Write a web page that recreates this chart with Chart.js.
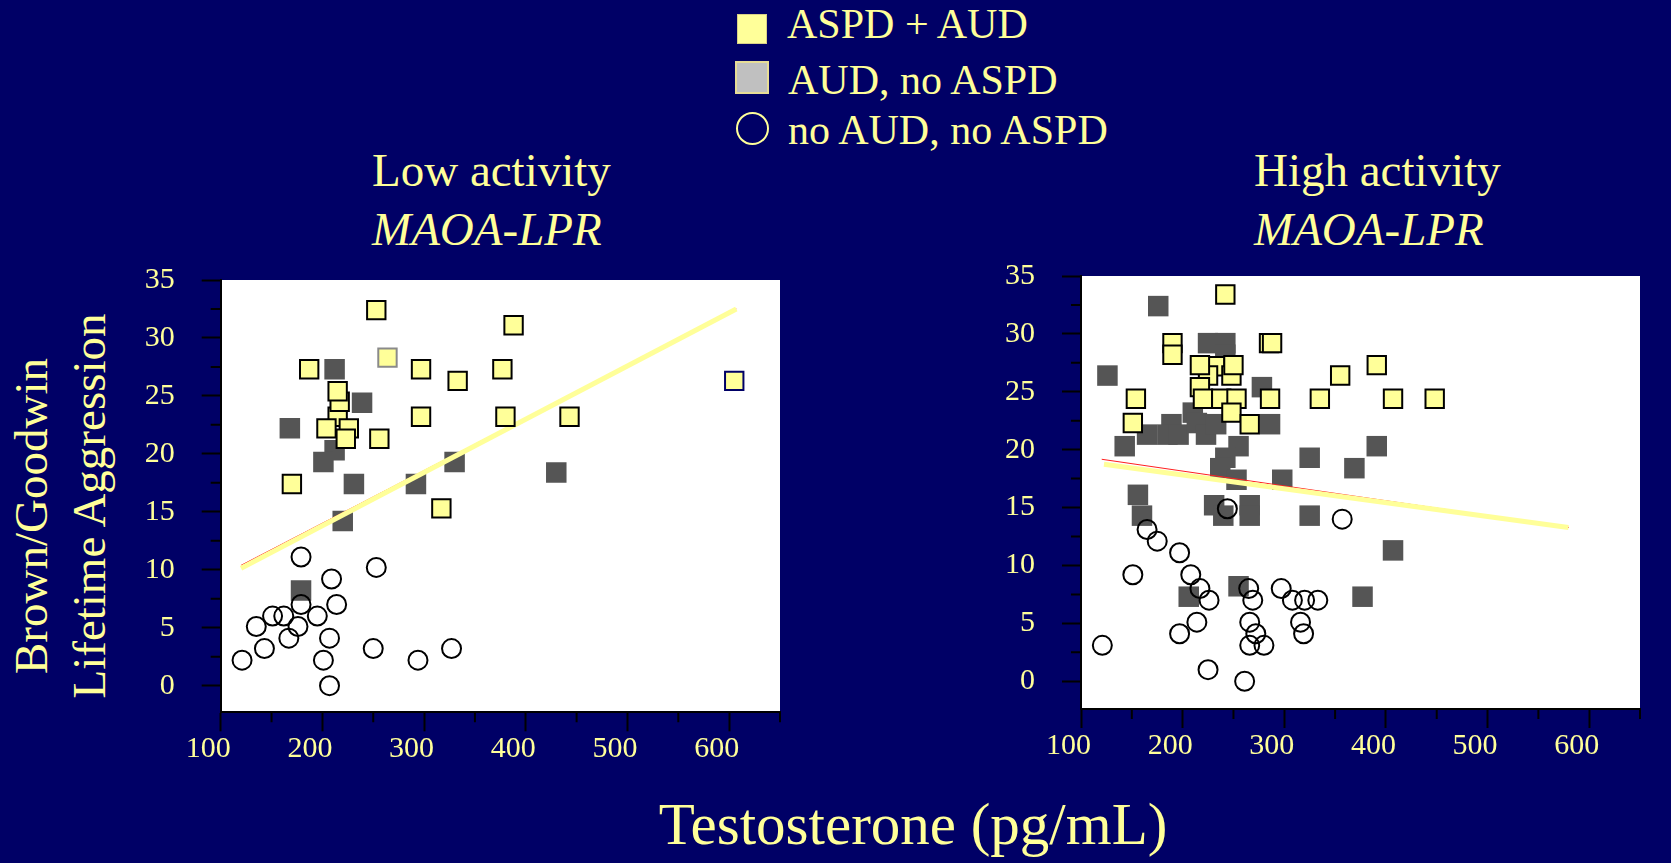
<!DOCTYPE html>
<html>
<head>
<meta charset="utf-8">
<title>Testosterone and lifetime aggression by MAOA-LPR activity</title>
<script src="https://cdn.jsdelivr.net/npm/chart.js@4.4.0/dist/chart.umd.min.js"></script>
<style>
  html, body { margin: 0; padding: 0; background: #000066; width: 1671px; height: 863px; overflow: hidden; }
  .t { position: absolute; color: #ffff99; font-family: "Liberation Serif", "Times New Roman", serif; white-space: nowrap; }
  canvas { position: absolute; }
  .key { position: absolute; box-sizing: border-box; }
</style>
</head>
<body>

<!-- legend -->
<div class="key" style="left:737px;top:14px;width:30px;height:30px;background:#ffff99;border:1px solid #d8d088;"></div>
<div class="t" style="left:787px;top:3px;font-size:42px;line-height:42px;">ASPD + AUD</div>
<div class="key" style="left:735px;top:61px;width:34px;height:33px;background:#c0c0c0;border:2px solid #e6dc96;"></div>
<div class="t" style="left:788px;top:59px;font-size:42px;line-height:42px;">AUD, no ASPD</div>
<div class="key" style="left:736px;top:112px;width:33px;height:33px;border:2px solid #ffff99;border-radius:50%;"></div>
<div class="t" style="left:788px;top:109px;font-size:42px;line-height:42px;">no AUD, no ASPD</div>

<!-- panel headings -->
<div class="t" style="left:372px;top:141px;font-size:47px;line-height:59px;">Low activity<br><i>MAOA-LPR</i></div>
<div class="t" style="left:1254px;top:141px;font-size:47px;line-height:59px;">High activity<br><i>MAOA-LPR</i></div>

<!-- axis titles -->
<div class="t" style="left:31px;top:516px;font-size:47px;line-height:47px;transform:translate(-50%,-50%) rotate(-90deg);">Brown/Goodwin</div>
<div class="t" style="left:89px;top:506px;font-size:47px;line-height:47px;transform:translate(-50%,-50%) rotate(-90deg);">Lifetime Aggression</div>
<div class="t" style="left:513px;top:795px;width:800px;text-align:center;font-size:59px;line-height:59px;">Testosterone (pg/mL)</div>

<canvas id="low" width="800" height="555" style="left:0px;top:235px;"></canvas>
<canvas id="high" width="800" height="559" style="left:860px;top:231px;"></canvas>

<script>
// ---- Low activity MAOA-LPR ----
const lowAspdX = [253, 388, 264, 187, 297, 333, 377, 215, 217, 215, 297, 380, 443, 226, 223, 204, 256, 170, 317, 605];
const lowAspdY = [32.4, 31.1, 28.3, 27.3, 27.3, 26.3, 27.3, 23.2, 24.5, 25.4, 23.2, 23.2, 23.2, 22.2, 21.3, 22.2, 21.3, 17.4, 15.3, 26.3];
const lowAudX = [212, 239, 168, 212, 201, 231, 292, 330, 430, 220, 179];
const lowAudY = [27.3, 24.4, 22.2, 20.3, 19.3, 17.4, 17.4, 19.3, 18.4, 14.2, 8.2];
const lowNoneX = [179, 253, 209, 214, 179, 151, 162, 195, 135, 176, 167, 207, 143, 250, 327, 121, 201, 294, 207];
const lowNoneY = [11.1, 10.2, 9.2, 7.0, 7.0, 6.0, 6.0, 6.0, 5.1, 5.1, 4.1, 4.1, 3.2, 3.2, 3.2, 2.2, 2.2, 2.2, 0];
const lowFitX = [120, 607];
const lowFitY = [10.13, 32.5];
const lowFitTraceY = [10.38, 32.5];

// ---- High activity MAOA-LPR ----
const highAspdX = [285, 232, 225, 248, 242, 190, 190, 288, 217, 250, 217, 220, 238, 253, 248, 154, 286, 335, 151, 266, 355, 391, 407, 448];
const highAspdY = [29.2, 27.2, 26.4, 26.4, 33.4, 29.2, 28.2, 29.2, 27.3, 27.3, 25.4, 24.4, 24.4, 24.4, 23.2, 24.4, 24.4, 24.4, 22.3, 22.2, 26.4, 27.3, 24.4, 24.4];
const highAudX = [176, 225, 242, 242, 126, 278, 286, 143, 210, 189, 165, 185, 196, 214, 223, 233, 255, 242, 237, 253, 325, 298, 391, 369, 156, 160, 231, 240, 266, 266, 325, 407, 206, 255, 377];
const highAudY = [32.4, 29.2, 29.2, 28.2, 26.4, 25.4, 22.2, 20.3, 23.2, 22.2, 21.3, 21.3, 21.3, 22.3, 21.3, 22.2, 20.3, 19.3, 18.4, 17.4, 19.3, 17.4, 20.3, 18.4, 16.1, 14.3, 15.2, 14.3, 15.2, 14.3, 14.3, 11.3, 7.3, 8.2, 7.3];
const highNoneX = [244, 357, 165, 175, 197, 151, 208, 217, 226, 265, 269, 297, 308, 320, 333, 214, 266, 316, 197, 272, 319, 121, 266, 280, 225, 261];
const highNoneY = [14.9, 14.0, 13.1, 12.1, 11.1, 9.2, 9.2, 8.0, 7.0, 8.0, 7.0, 8.0, 7.0, 7.0, 7.0, 5.1, 5.1, 5.1, 4.1, 4.1, 4.1, 3.1, 3.1, 3.1, 1.0, 0];
const highFitX = [122.6, 579.6];
const highFitY = [18.74, 13.27];
const highFitTraceX = [120.4, 580];
const highFitTraceY = [19.17, 13.28];

// ---- shared axes ----
const xTicks = [100, 200, 300, 400, 500, 600];
const xMinorTicks = [150, 250, 350, 450, 550, 650];
const yTicks = [0, 5, 10, 15, 20, 25, 30, 35];
const yMinorTicks = [2.5, 7.5, 12.5, 17.5, 22.5, 27.5, 32.5];

const CREAM = '#ffff99';
const SERIF = '"Liberation Serif", "Times New Roman", serif';

const pts = (xs, ys) => xs.map((x, i) => ({ x, y: ys[i] }));

// white plot panel behind the marks, short minor ticks outside it
const panelPlugin = {
  id: 'panel',
  beforeDraw(chart) {
    const { ctx, chartArea: a } = chart;
    ctx.save();
    ctx.fillStyle = '#ffffff';
    ctx.fillRect(a.left, a.top, a.right - a.left, a.bottom - a.top);
    ctx.restore();
  },
  afterDraw(chart) {
    const { ctx, chartArea: a, scales } = chart;
    ctx.save();
    ctx.strokeStyle = '#000000';
    ctx.lineWidth = 2;
    ctx.beginPath();
    xMinorTicks.forEach(v => {
      const p = scales.x.getPixelForValue(v);
      ctx.moveTo(p, a.bottom);
      ctx.lineTo(p, a.bottom + 10);
    });
    yMinorTicks.forEach(v => {
      const p = scales.y.getPixelForValue(v);
      ctx.moveTo(a.left, p);
      ctx.lineTo(a.left - 10, p);
    });
    ctx.stroke();
    ctx.restore();
  }
};

function makePanel(id, s, g) {
  return new Chart(document.getElementById(id), {
    type: 'scatter',
    data: {
      datasets: [
        {
          label: 'ASPD + AUD',
          data: pts(s.aspdX, s.aspdY),
          pointStyle: 'rect', pointRadius: 13, pointHoverRadius: 13,
          backgroundColor: CREAM,
          borderColor: c => (s.aspdEdge && s.aspdEdge[c.dataIndex]) || '#000000',
          borderWidth: 2,
          order: 0
        },
        {
          label: 'fit',
          type: 'line',
          data: pts(s.fitX, s.fitY),
          borderColor: CREAM, borderWidth: 5, pointRadius: 0,
          borderCapStyle: 'butt', tension: 0,
          order: 1
        },
        {
          label: 'fit trace',
          type: 'line',
          data: pts(s.traceX, s.traceY),
          borderColor: '#ff2020', borderWidth: 1, pointRadius: 0, tension: 0,
          order: 2
        },
        {
          label: 'no AUD, no ASPD',
          data: pts(s.noneX, s.noneY),
          pointStyle: 'circle', pointRadius: 9.5, pointHoverRadius: 9.5,
          backgroundColor: 'rgba(0,0,0,0)',
          borderColor: '#000000', borderWidth: 2,
          order: 3
        },
        {
          label: 'AUD, no ASPD',
          data: pts(s.audX, s.audY),
          pointStyle: 'rect', pointRadius: 14.5, pointHoverRadius: 14.5,
          backgroundColor: '#555555', borderWidth: 0,
          order: 4
        }
      ]
    },
    options: {
      responsive: false,
      animation: false,
      events: [],
      layout: { padding: { top: g.padTop, right: 20, left: 0, bottom: 0 } },
      plugins: { legend: { display: false }, tooltip: { enabled: false } },
      scales: {
        x: {
          type: 'linear', min: 100, max: 650,
          afterFit: sc => { sc.height = g.xAxisH; },
          afterBuildTicks: sc => { sc.ticks = xTicks.map(v => ({ value: v })); },
          border: { display: true, color: '#000000', width: 2 },
          grid: { drawOnChartArea: false, drawTicks: true, tickLength: 19, tickColor: '#000000', tickWidth: 2 },
          ticks: {
            autoSkip: false, maxRotation: 0, padding: 0, labelOffset: -12.5,
            color: CREAM, font: { family: SERIF, size: 30 }
          }
        },
        y: {
          type: 'linear', min: g.yMin, max: 35,
          afterFit: sc => { sc.width = g.yAxisW; },
          afterBuildTicks: sc => { sc.ticks = yTicks.map(v => ({ value: v })); },
          border: { display: true, color: '#000000', width: 2 },
          grid: { drawOnChartArea: false, drawTicks: true, tickLength: 19, tickColor: '#000000', tickWidth: 2 },
          ticks: {
            autoSkip: false, padding: 27,
            color: CREAM, font: { family: SERIF, size: 30 }
          }
        }
      }
    },
    plugins: [panelPlugin]
  });
}

makePanel('low', {
  aspdX: lowAspdX, aspdY: lowAspdY,
  aspdEdge: { 2: '#8a8a8a', 19: '#000066' },
  audX: lowAudX, audY: lowAudY,
  noneX: lowNoneX, noneY: lowNoneY,
  fitX: lowFitX, fitY: lowFitY,
  traceX: lowFitX, traceY: lowFitTraceY
}, { padTop: 45, xAxisH: 77.7, yAxisW: 220.7, yMin: -2.3 });

makePanel('high', {
  aspdX: highAspdX, aspdY: highAspdY,
  audX: highAudX, audY: highAudY,
  noneX: highNoneX, noneY: highNoneY,
  fitX: highFitX, fitY: highFitY,
  traceX: highFitTraceX, traceY: highFitTraceY
}, { padTop: 45, xAxisH: 81, yAxisW: 221, yMin: -2.4 });
</script>
</body>
</html>
